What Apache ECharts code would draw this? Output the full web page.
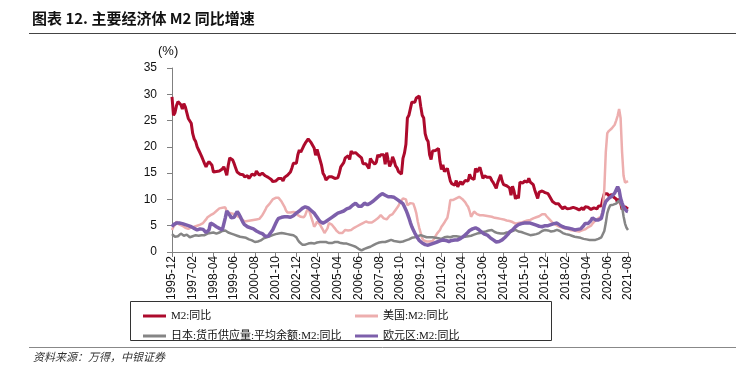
<!DOCTYPE html>
<html><head><meta charset="utf-8">
<script src="https://cdn.jsdelivr.net/npm/echarts@6/dist/echarts.min.js"></script>
<style>html,body{margin:0;padding:0;background:#fff}#c{width:742px;height:365px}</style>
</head><body><div id="c"></div>
<script>
// monthly categories 1995-12 .. 2021-08
const categories = [];
for (let y = 1995, m = 12; y < 2021 || (y === 2021 && m <= 8);) {
  categories.push(y + '-' + String(m).padStart(2, '0'));
  m++; if (m > 12) { m = 1; y++; }
}
const seriesNames = ['M2:同比', '美国:M2:同比', '日本:货币供应量:平均余额:M2:同比', '欧元区:M2:同比'];

const chinaM2 = [29.5,
 26.0,26.5,27.8,28.6,28.4,28.0,27.2,28.2,27.6,26.5,25.4,25.3,
 24.5,22.5,21.5,21.0,20.0,19.4,18.8,18.2,17.5,16.8,16.2,16.8,
 17.2,17.5,16.5,15.2,15.0,15.3,15.0,15.4,15.6,15.8,16.2,15.5,
 14.6,16.5,17.9,17.6,17.5,16.8,16.0,15.2,15.0,14.8,14.6,14.7,
 14.3,14.1,14.5,14.0,14.4,14.8,14.5,14.6,15.4,15.0,14.6,14.8,
 15.0,14.8,14.5,14.6,14.2,14.0,13.8,13.4,13.2,13.5,13.4,14.0,
 13.8,14.0,13.5,14.2,14.3,14.6,14.5,15.2,16.0,16.9,17.0,16.9,
 18.5,19.4,19.0,19.2,20.2,20.7,21.0,21.5,21.2,20.8,20.5,19.8,
 18.4,19.5,18.5,17.5,16.5,15.0,14.5,13.7,13.8,14.3,14.6,14.3,
 14.1,14.0,14.2,14.1,15.0,16.2,16.3,17.0,17.9,18.1,18.3,17.6,
 19.2,18.8,18.8,18.9,19.1,18.4,18.4,17.9,16.8,17.1,16.8,16.9,
 15.9,17.8,17.3,17.1,16.7,17.1,18.5,18.1,18.5,18.5,18.5,16.7,
 18.9,17.5,16.3,16.9,18.1,17.4,16.4,16.0,15.3,15.0,14.8,17.8,
 18.8,20.5,25.5,26.0,25.7,28.5,28.4,28.5,29.3,29.4,29.7,27.7,
 26.0,25.5,22.5,21.5,21.0,18.5,17.6,19.2,19.0,19.3,19.5,19.7,
 17.2,15.7,16.6,15.3,15.1,15.9,14.7,13.5,13.0,12.9,12.7,13.6,
 12.4,13.0,13.4,12.8,13.2,13.6,13.9,13.5,14.8,14.1,13.9,13.8,
 15.9,15.2,15.7,16.1,15.8,14.0,14.5,14.7,14.2,14.3,14.2,13.6,
 13.2,13.3,12.1,13.2,13.4,14.7,13.5,12.8,12.9,12.6,12.3,12.2,
 10.8,12.5,11.6,10.1,10.8,10.2,13.3,13.3,13.1,13.5,13.7,13.3,
 14.0,13.3,13.4,12.8,11.8,11.8,10.2,11.4,11.5,11.6,11.4,11.3,
 11.3,11.1,10.6,10.5,9.6,9.4,9.2,8.9,9.2,8.8,9.1,8.2,
 8.6,8.8,8.2,8.3,8.3,8.0,8.5,8.2,8.3,8.0,8.0,8.1,
 8.4,8.0,8.6,8.5,8.5,8.5,8.1,8.2,8.4,8.4,8.2,8.7,
 8.4,8.8,10.1,11.1,11.1,11.1,10.7,10.4,10.9,10.5,10.7,10.1,
 9.4,10.1,9.4,8.1,8.3,8.6,8.3,8.2];

const usM2 = [4.2,
 4.8,5.2,5.8,5.5,5.2,5.0,5.0,4.8,4.6,4.5,4.4,4.6,
 4.7,4.8,4.8,4.9,5.0,5.1,5.2,5.4,5.5,5.8,6.2,6.6,
 6.8,7.0,7.2,7.3,7.5,7.8,8.0,8.3,8.2,8.4,8.6,8.5,
 7.7,7.6,7.4,7.3,7.3,7.1,7.0,6.8,6.7,6.5,6.3,6.0,
 5.8,5.7,5.9,6.1,6.0,6.0,6.1,6.0,6.2,6.1,6.3,6.6,
 7.0,7.5,8.0,8.6,8.8,9.2,9.6,10.0,10.2,10.3,10.5,10.3,
 10.0,9.6,9.3,8.6,7.9,7.5,7.4,7.5,7.7,7.6,7.7,7.5,
 7.0,6.7,6.7,6.8,6.6,7.0,7.8,8.3,7.6,6.7,5.8,4.8,
 5.2,5.8,5.6,5.2,4.7,4.2,3.6,3.5,4.5,5.5,5.4,5.2,
 4.9,4.5,4.1,3.8,3.6,3.5,3.6,3.9,4.2,4.2,4.1,4.2,
 4.2,4.4,4.6,4.8,4.9,5.1,5.2,5.4,5.5,5.6,5.8,5.8,
 5.6,5.5,5.6,5.8,6.0,6.2,6.4,6.6,7.0,6.8,6.4,6.1,
 6.2,6.5,6.9,7.0,7.2,7.6,8.0,8.3,8.8,9.4,9.7,10.2,
 10.5,10.0,8.9,9.0,9.3,9.6,9.2,8.4,7.4,5.8,4.6,3.6,
 2.6,2.2,2.0,2.0,1.9,2.0,2.0,2.1,2.5,3.0,3.5,3.8,
 4.2,4.8,5.2,5.6,6.1,6.5,8.0,9.9,10.0,9.9,10.0,10.2,
 10.4,10.5,10.3,10.1,9.9,9.5,9.0,8.6,7.8,6.7,7.0,7.7,
 7.4,7.2,7.0,7.0,7.1,7.0,7.0,6.9,6.9,6.8,6.7,6.7,
 6.6,6.5,6.5,6.4,6.4,6.3,6.2,6.2,6.1,6.0,5.9,5.9,
 5.8,5.7,5.6,5.4,5.3,5.5,5.5,5.6,5.7,5.8,5.9,6.0,
 6.0,6.1,6.2,6.4,6.5,6.6,6.7,6.8,7.0,7.2,7.3,7.2,
 6.8,6.6,6.2,5.9,5.6,5.4,5.2,5.0,4.9,4.8,4.7,4.6,
 4.5,4.4,4.4,4.3,4.2,4.2,4.1,4.1,4.0,3.9,3.9,4.0,
 4.1,4.2,4.3,4.5,4.7,4.8,5.0,5.4,5.7,6.0,6.1,6.4,
 6.7,6.8,8.0,12.0,19.0,22.6,23.0,23.2,23.5,23.8,24.2,25.0,
 25.9,27.2,25.5,19.0,14.5,13.2,13.2,13.5];

const japanM2 = [3.4,
 3.2,2.9,2.8,3.0,3.3,3.5,3.3,3.1,3.2,3.3,3.0,2.8,
 2.9,3.0,3.1,3.2,3.2,3.1,3.0,3.2,3.3,3.2,3.4,3.5,
 3.5,3.6,3.8,3.7,3.6,3.5,3.5,3.7,3.9,4.0,4.2,4.1,
 3.9,3.7,3.5,3.5,3.4,3.3,3.2,3.1,3.0,2.9,2.8,2.8,
 2.8,2.7,2.5,2.4,2.3,2.2,2.0,1.9,1.9,2.0,2.1,2.2,
 2.4,2.6,2.8,2.8,2.9,3.0,3.1,3.2,3.3,3.4,3.4,3.5,
 3.5,3.6,3.6,3.5,3.5,3.4,3.4,3.3,3.3,3.2,3.0,2.8,
 2.3,1.9,1.6,1.4,1.3,1.4,1.5,1.6,1.6,1.7,1.6,1.6,
 1.7,1.8,1.9,1.9,1.8,1.9,1.9,1.9,1.8,1.7,1.6,1.7,
 1.8,1.9,1.9,1.9,1.8,1.7,1.6,1.6,1.6,1.6,1.5,1.4,
 1.3,1.2,1.1,1.0,0.9,0.6,0.4,0.3,0.4,0.6,0.7,0.8,
 0.9,1.0,1.2,1.3,1.5,1.6,1.7,1.8,1.8,1.9,1.9,1.9,
 2.0,2.1,2.2,2.3,2.2,2.1,2.1,2.0,1.9,1.9,1.9,2.0,
 2.1,2.2,2.3,2.4,2.6,2.7,2.8,2.8,2.9,3.0,3.2,3.2,
 3.1,3.0,2.9,2.8,2.9,2.8,2.7,2.8,2.8,2.7,2.6,2.6,
 2.6,2.5,2.6,2.8,2.8,2.9,2.9,2.8,2.9,3.0,3.1,3.0,
 3.0,2.9,2.9,2.8,2.9,2.9,2.9,3.0,3.0,3.1,3.2,3.3,
 3.4,3.5,3.5,3.6,3.7,3.8,3.8,3.9,4.0,4.1,4.1,4.2,
 4.0,3.8,3.7,3.6,3.5,3.5,3.4,3.5,3.6,3.7,3.7,3.7,
 3.8,4.0,4.1,4.2,4.1,3.9,3.8,3.8,3.7,3.6,3.5,3.4,
 3.3,3.2,3.2,3.3,3.3,3.4,3.5,3.6,3.8,4.0,4.1,4.2,
 4.2,4.1,4.0,3.9,3.9,4.0,4.1,4.2,4.1,4.0,3.8,3.6,
 3.5,3.4,3.3,3.3,3.2,3.1,3.0,2.9,2.8,2.8,2.7,2.7,
 2.6,2.5,2.5,2.4,2.4,2.3,2.3,2.3,2.3,2.3,2.4,2.5,
 2.6,2.8,3.0,4.0,5.5,7.4,8.3,8.9,9.0,9.0,9.1,9.2,
 9.4,9.8,9.5,8.6,6.8,5.4,4.6,4.2];

const euroM2 = [4.8,
 5.2,5.5,5.5,5.6,5.5,5.5,5.4,5.3,5.2,5.1,5.0,4.9,
 4.8,4.6,4.5,4.4,4.2,4.3,4.4,4.5,4.3,4.0,3.7,3.5,
 4.2,5.5,5.5,5.2,4.9,4.8,4.6,4.5,4.4,4.2,4.5,6.5,
 7.8,7.5,7.0,6.5,6.2,6.6,7.2,7.7,7.3,6.8,6.2,5.6,
 5.2,4.9,4.8,4.7,4.6,4.5,4.4,4.2,4.0,3.8,3.7,3.6,
 3.5,3.3,3.0,2.8,3.0,3.4,3.8,4.2,4.8,5.4,6.0,6.4,
 6.5,6.6,6.7,6.7,6.8,6.7,6.6,6.6,6.7,6.9,7.2,7.4,
 7.5,7.8,8.1,8.3,8.5,8.6,8.6,8.4,8.2,7.9,7.6,7.4,
 7.0,6.6,6.2,5.8,5.5,5.5,5.6,5.8,6.0,6.2,6.4,6.6,
 6.8,7.0,7.2,7.4,7.5,7.6,7.7,7.8,8.0,8.2,8.3,8.4,
 8.6,8.9,9.2,9.3,9.0,8.7,8.6,8.7,9.0,9.3,9.1,9.0,
 9.2,9.3,9.5,9.7,9.9,10.2,10.5,10.7,10.9,11.1,11.0,10.8,
 10.6,10.5,10.4,10.5,10.5,10.4,10.2,10.0,9.8,9.6,9.4,9.2,
 8.6,8.0,7.3,6.5,5.6,4.8,4.2,3.6,3.1,2.6,2.2,1.9,
 1.7,1.6,1.4,1.3,1.3,1.4,1.5,1.6,1.7,1.8,1.9,2.0,
 2.1,2.2,2.3,2.3,2.2,2.1,2.0,2.1,2.2,2.3,2.3,2.3,
 2.3,2.4,2.6,2.8,3.0,3.2,3.5,3.8,4.1,4.3,4.4,4.5,
 4.6,4.5,4.3,4.1,3.8,3.6,3.4,3.3,3.2,3.0,2.7,2.5,
 2.3,2.0,1.9,1.9,2.0,2.2,2.3,2.5,2.8,3.1,3.4,3.8,
 4.0,4.2,4.5,4.8,5.1,5.2,5.3,5.4,5.5,5.5,5.5,5.5,
 5.5,5.5,5.4,5.3,5.2,5.1,5.0,4.9,4.8,4.8,4.9,5.0,
 5.0,5.0,5.1,5.2,5.3,5.4,5.5,5.5,5.3,5.1,4.9,4.8,
 4.7,4.6,4.6,4.5,4.5,4.4,4.3,4.2,4.2,4.3,4.3,4.4,
 4.7,5.0,5.4,5.5,5.4,5.5,6.0,6.5,6.3,6.1,6.0,6.1,
 6.2,6.4,7.5,8.8,9.6,9.9,10.2,10.4,10.6,10.8,11.2,11.8,
 12.4,11.8,10.2,9.3,8.6,8.2,7.8,7.7];

const yTicks = { min: 0, max: 35, interval: 5 };
const colors = ['#AD0A2C', '#EDAEAE', '#858585', '#7D5FAB'];
const widths = [3, 2.5, 2.5, 3.5];
const dataSets = [chinaM2, usM2, japanM2, euroM2];

const chart = echarts.init(document.getElementById('c'), null, { renderer: 'canvas' });
const latin = 'Liberation Sans, Arial, sans-serif';
const serif = 'Liberation Serif, Noto Sans CJK SC, serif';
const legendText = { fontSize: 11, fontFamily: serif, color: '#111', lineHeight: 14 };

chart.setOption({
  animation: false,
  backgroundColor: '#fff',
  grid: { left: 172, right: 114, top: 68, bottom: 113, containLabel: false },
  xAxis: {
    type: 'category', data: categories, boundaryGap: false,
    axisLine: { lineStyle: { color: '#808080', width: 1 } },
    axisTick: { show: true, interval: 13, length: 5, lineStyle: { color: '#808080' } },
    axisLabel: { interval: 13, rotate: 90, fontSize: 12, fontFamily: latin, color: '#111', margin: 4 },
    splitLine: { show: false }
  },
  yAxis: {
    type: 'value', min: yTicks.min, max: yTicks.max, interval: yTicks.interval,
    axisLine: { show: true, lineStyle: { color: '#808080', width: 1 } },
    axisTick: { show: true, length: 5, lineStyle: { color: '#808080' } },
    axisLabel: { fontSize: 12, fontFamily: latin, color: '#111', margin: 15 },
    splitLine: { show: false }
  },
  legend: [
    { left: 138, top: 304, orient: 'vertical', itemGap: 6, itemWidth: 23, itemHeight: 3, icon: 'rect',
      data: [seriesNames[0], seriesNames[2]], textStyle: legendText },
    { left: 350, top: 304, orient: 'vertical', itemGap: 6, itemWidth: 23, itemHeight: 3, icon: 'rect',
      data: [seriesNames[1], seriesNames[3]], textStyle: legendText }
  ],
  series: dataSets.map((d, k) => ({
    name: seriesNames[k], type: 'line', data: d, symbol: 'none', showSymbol: false,
    lineStyle: { color: colors[k], width: widths[k] }, itemStyle: { color: colors[k] },
    z: 2 + k
  })),
  graphic: [
    { type: 'text', left: 32, top: 11, style: { text: '图表 12. 主要经济体 M2 同比增速', font: 'bold 15px "Noto Sans CJK SC", sans-serif', fill: '#111' } },
    { type: 'line', shape: { x1: 29, y1: 33.5, x2: 736, y2: 33.5 }, style: { stroke: '#444', lineWidth: 1.2 } },
    { type: 'text', left: 158, top: 45, style: { text: '(%)', font: '13px "Liberation Sans", Arial', fill: '#111' } },
    { type: 'rect', shape: { x: 130.5, y: 301.5, width: 421, height: 39 }, style: { fill: 'none', stroke: '#333', lineWidth: 1 } },
    { type: 'line', shape: { x1: 29, y1: 347.5, x2: 736, y2: 347.5 }, style: { stroke: '#888', lineWidth: 1 } },
    { type: 'text', left: 33, top: 351, style: { text: '资料来源：万得，中银证券', font: 'italic 11px "Noto Sans CJK SC", sans-serif', fill: '#333' } }
  ]
});
</script></body></html>
